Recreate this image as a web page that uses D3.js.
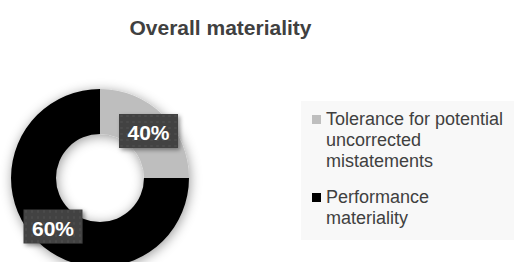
<!DOCTYPE html>
<html>
<head>
<meta charset="utf-8">
<script src="https://cdn.jsdelivr.net/npm/d3@7"></script>
<style>
  body { margin: 0; background: #fff; }
  svg { display: block; font-family: "Liberation Sans", Arial, sans-serif; }
</style>
</head>
<body>
<svg id="chart" width="514" height="262"></svg>
<script>
// slice values as drawn, and the label text shown on them
var categories = ['Tolerance for potential uncorrected mistatements', 'Performance materiality'];
var values = [25, 75];
var labels = ['40%', '60%'];
var colors = ['#bebebe', '#000000'];
// legend text broken into lines the way the chart wraps it
var legendLines = [['Tolerance for potential', 'uncorrected', 'mistatements'], ['Performance', 'materiality']];

var svg = d3.select('#chart');

var defs = svg.append('defs');
var shadow = defs.append('filter').attr('id', 'shadow')
    .attr('x', '-30%').attr('y', '-30%').attr('width', '160%').attr('height', '160%');
shadow.append('feDropShadow')
    .attr('dx', 1).attr('dy', 2).attr('stdDeviation', 6)
    .attr('flood-color', '#000').attr('flood-opacity', 0.4);

var boxShadow = defs.append('filter').attr('id', 'boxShadow')
    .attr('x', '-30%').attr('y', '-30%').attr('width', '160%').attr('height', '160%');
boxShadow.append('feDropShadow')
    .attr('dx', 2).attr('dy', 2).attr('stdDeviation', 2)
    .attr('flood-color', '#000').attr('flood-opacity', 0.4);

// faint dotted texture on the label boxes
var pat = defs.append('pattern').attr('id', 'dots')
    .attr('width', 6).attr('height', 6).attr('patternUnits', 'userSpaceOnUse');
pat.append('rect').attr('width', 6).attr('height', 6).attr('fill', '#424242');
pat.append('circle').attr('cx', 3).attr('cy', 3).attr('r', 1.2).attr('fill', '#4c4c4c');

// title
svg.append('text')
    .attr('x', 220.5).attr('y', 35)
    .attr('text-anchor', 'middle')
    .attr('font-size', 21).attr('font-weight', 'bold')
    .attr('fill', '#404040')
    .text('Overall materiality');

// donut
var cx = 100, cy = 178;
var outerR = 89, innerR = 44;

var pie = d3.pie().sort(null).value(d => d);
var arcs = pie(values);
var arc = d3.arc().innerRadius(innerR).outerRadius(outerR);

var pieG = svg.append('g')
    .attr('transform', `translate(${cx}, ${cy})`);

pieG.append('g').attr('filter', 'url(#shadow)')
    .selectAll('path')
    .data(arcs)
    .enter()
    .append('path')
    .attr('d', arc)
    .attr('fill', (d, i) => colors[i]);

// data labels, placed roughly where the chart puts them
var labelPos = [[48.5, -47], [-47, 48.5]];
var labelG = pieG.selectAll('.lbl')
    .data(arcs)
    .enter()
    .append('g')
    .attr('class', 'lbl')
    .attr('transform', (d, i) => `translate(${labelPos[i][0]}, ${labelPos[i][1]})`);

labelG.append('rect')
    .attr('x', -29.5).attr('y', -17)
    .attr('width', 59).attr('height', 34)
    .attr('fill', 'url(#dots)')
    .attr('filter', 'url(#boxShadow)');

labelG.append('text')
    .attr('text-anchor', 'middle')
    .attr('y', 9)
    .attr('font-size', 21).attr('font-weight', 'bold')
    .attr('fill', '#fff')
    .text((d, i) => labels[i]);

// legend
svg.append('rect')
    .attr('x', 301).attr('y', 101)
    .attr('width', 213).attr('height', 139)
    .attr('fill', '#f8f8f8');

var legendTop = [125, 203];
var legend = svg.selectAll('.legend')
    .data(categories)
    .enter()
    .append('g')
    .attr('class', 'legend')
    .attr('transform', (d, i) => `translate(312, ${legendTop[i]})`);

legend.append('rect')
    .attr('x', 0).attr('y', -10)
    .attr('width', 9).attr('height', 9)
    .attr('fill', (d, i) => colors[i]);

legend.append('text')
    .attr('x', 14)
    .attr('font-size', 18)
    .attr('fill', '#404040')
    .selectAll('tspan')
    .data((d, i) => legendLines[i])
    .enter()
    .append('tspan')
    .attr('x', 14)
    .attr('dy', (d, j) => j === 0 ? 0 : 21)
    .text(d => d);
</script>
</body>
</html>
